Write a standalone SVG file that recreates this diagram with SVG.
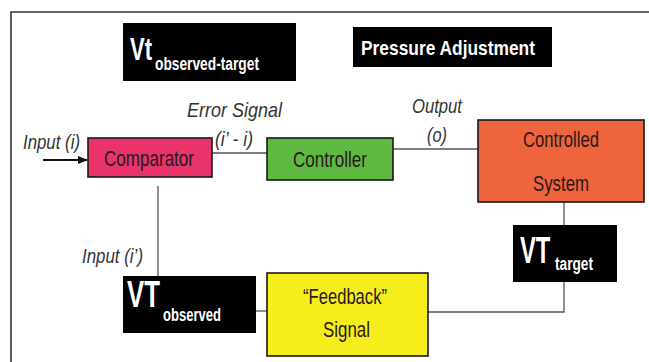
<svg xmlns="http://www.w3.org/2000/svg" width="649" height="362" viewBox="0 0 649 362">
  <style>
    .lbl { font-family: "Liberation Sans", Arial, sans-serif; font-style: italic; font-size: 21px; fill: #333; }
    .box-text { font-family: "Liberation Sans", Arial, sans-serif; font-size: 22px; fill: #2a1a1a; }
    .tag { fill: #000; }
    .tag-big { font-family: "Liberation Sans", Arial, sans-serif; font-weight: bold; fill: #fff; }
    .wire { stroke: #555; stroke-width: 1.3; fill: none; }
    .edge { stroke: #1a1a1a; stroke-width: 1.6; }
  </style>
  <defs>
    <marker id="arrowhead" viewBox="0 0 10 10" refX="9" refY="5" markerWidth="5" markerHeight="5" orient="auto">
      <path d="M0,1 L10,5 L0,9 z" fill="#111"/>
    </marker>
  </defs>

  <rect width="649" height="362" fill="#fff"/>
  <!-- open frame: left and top rules -->
  <path d="M11,362 V12 H649" stroke="#333" stroke-width="1.6" fill="none"/>

  <!-- connectors -->
  <g id="connectors">
    <line x1="43" y1="160" x2="87" y2="160" stroke="#111" stroke-width="2" marker-end="url(#arrowhead)"/>
    <line class="wire" x1="212" y1="153" x2="267" y2="153"/>
    <line class="wire" x1="393" y1="149" x2="478" y2="149"/>
    <line class="wire" x1="564" y1="190" x2="564" y2="225"/>
    <polyline class="wire" points="564,282 564,312 428,312"/>
    <line class="wire" x1="256" y1="311" x2="267" y2="311"/>
    <line class="wire" x1="158" y1="186" x2="158" y2="276"/>
  </g>

  <!-- edge labels -->
  <g id="labels">
    <text class="lbl" x="23" y="149" textLength="57" lengthAdjust="spacingAndGlyphs">Input (i)</text>
    <text class="lbl" x="187" y="117" textLength="95" lengthAdjust="spacingAndGlyphs">Error  Signal</text>
    <text class="lbl" x="215" y="146" textLength="38" lengthAdjust="spacingAndGlyphs">(i’ - i)</text>
    <text class="lbl" x="412" y="113" textLength="50" lengthAdjust="spacingAndGlyphs">Output</text>
    <text class="lbl" x="427" y="142" textLength="20" lengthAdjust="spacingAndGlyphs">(o)</text>
    <text class="lbl" x="82" y="263" textLength="61" lengthAdjust="spacingAndGlyphs">Input (i’)</text>
  </g>

  <g id="vt-observed-target">
    <rect class="tag" x="123" y="23" width="173" height="58"/>
    <text class="tag-big" x="130" y="60" font-size="32" textLength="22" lengthAdjust="spacingAndGlyphs">Vt</text>
    <text class="tag-big" x="155" y="70" font-size="18" textLength="104" lengthAdjust="spacingAndGlyphs">observed-target</text>
  </g>

  <g id="pressure-adjustment">
    <rect class="tag" x="353" y="27" width="199" height="40"/>
    <text class="tag-big" x="361" y="55" font-size="21" textLength="174" lengthAdjust="spacingAndGlyphs">Pressure Adjustment</text>
  </g>

  <g id="comparator">
    <rect x="88" y="138" width="124" height="39" fill="#e8346a" class="edge"/>
    <text class="box-text" x="104" y="166" textLength="90" lengthAdjust="spacingAndGlyphs">Comparator</text>
  </g>

  <g id="controller">
    <rect x="267" y="138" width="126" height="42" fill="#5db941" class="edge"/>
    <text class="box-text" x="293" y="167" fill="#1e3319" textLength="74" lengthAdjust="spacingAndGlyphs">Controller</text>
  </g>

  <g id="controlled-system">
    <rect x="478" y="120" width="166" height="82" fill="#ee643d" class="edge"/>
    <text class="box-text" x="523" y="147" textLength="76" lengthAdjust="spacingAndGlyphs">Controlled</text>
    <text class="box-text" x="533" y="191" textLength="56" lengthAdjust="spacingAndGlyphs">System</text>
  </g>

  <g id="vt-target">
    <rect class="tag" x="513" y="225" width="104" height="57"/>
    <text class="tag-big" transform="translate(520,263) scale(0.66,1)" x="0" y="0" font-size="36">VT</text>
    <text class="tag-big" x="555" y="270" font-size="18" textLength="38" lengthAdjust="spacingAndGlyphs">target</text>
  </g>

  <g id="vt-observed">
    <rect class="tag" x="123" y="276" width="133" height="57"/>
    <text class="tag-big" x="127" y="307" font-size="36" textLength="33" lengthAdjust="spacingAndGlyphs">VT</text>
    <text class="tag-big" x="163" y="321" font-size="18" textLength="58" lengthAdjust="spacingAndGlyphs">observed</text>
  </g>

  <g id="feedback-signal">
    <rect x="267" y="273" width="161" height="83" fill="#f6ee1c" class="edge"/>
    <text class="box-text" x="303" y="304" textLength="84" lengthAdjust="spacingAndGlyphs">“Feedback”</text>
    <text class="box-text" x="323" y="337" textLength="47" lengthAdjust="spacingAndGlyphs">Signal</text>
  </g>
</svg>
